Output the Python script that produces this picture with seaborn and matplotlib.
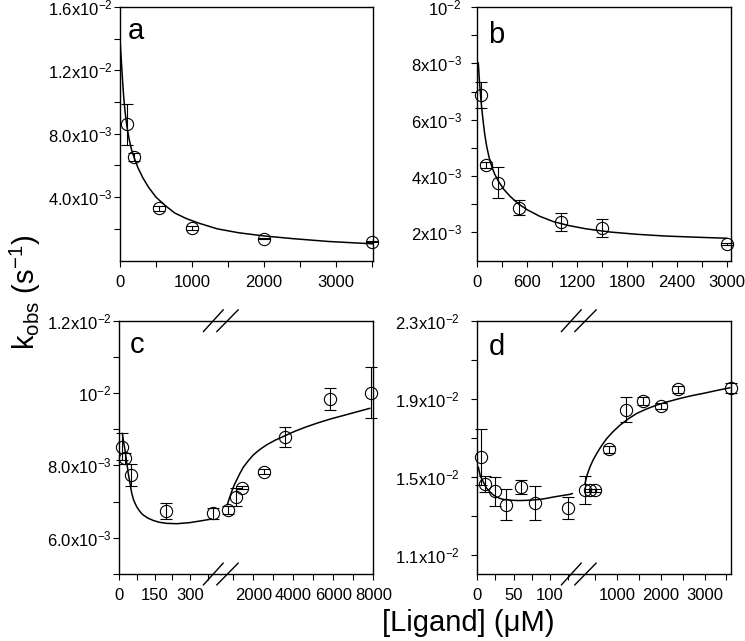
import matplotlib
matplotlib.use("Agg")
import matplotlib.pyplot as plt
import seaborn as sns
import numpy as np
import pandas as pd
from matplotlib.lines import Line2D

sns.set_theme(style="ticks")
plt.rcParams["font.family"] = ["Liberation Sans", "DejaVu Sans"]
plt.rcParams["mathtext.fontset"] = "custom"
plt.rcParams["mathtext.rm"] = "Liberation Sans"
plt.rcParams["mathtext.it"] = "Liberation Sans:italic"
plt.rcParams["mathtext.bf"] = "Liberation Sans:bold"
plt.rcParams["mathtext.sf"] = "Liberation Sans"

S = 1e-3  # values below are in units of 1e-3 s^-1

# ---------------- panel a ----------------
a_x = [100, 200, 540, 1000, 2000, 3500]
a_y = [8.6, 6.52, 3.3, 2.05, 1.37, 1.18]
a_err = [1.3, 0.25, 0.15, 0.1, 0.04, 0.04]
a_fit_x = [0, 10, 20, 35, 50, 70, 95, 125, 160, 200, 250, 320, 400, 500, 620, 760, 920,
           1100, 1350, 1650, 2000, 2400, 2900, 3519]
a_fit_y = [14.0, 13.2, 12.5, 11.4, 10.4, 9.4, 8.5, 7.7, 7.0, 6.45, 5.85, 5.2, 4.6, 4.0, 3.5,
           3.0, 2.65, 2.35, 2.0, 1.75, 1.55, 1.38, 1.2, 1.05]

# ---------------- panel b ----------------
b_x = [40, 100, 250, 500, 1000, 1500, 3000]
b_y = [6.88, 4.39, 3.76, 2.87, 2.375, 2.16, 1.59]
b_err = [0.46, 0.1, 0.55, 0.27, 0.32, 0.32, 0.04]
b_fit_x = [12, 25, 41, 55, 72, 90, 113, 140, 173, 210, 253, 320, 394, 490, 594, 750, 915,
           1100, 1316, 1600, 1918, 2250, 2600, 3001]
b_fit_y = [8.02, 7.40, 6.80, 6.35, 5.90, 5.47, 5.05, 4.68, 4.34, 4.06, 3.82, 3.52, 3.28, 3.02,
           2.81, 2.57, 2.38, 2.24, 2.12, 2.01, 1.93, 1.87, 1.83, 1.79]

# ---------------- panel c ----------------
c_low_x = [12.5, 25, 50, 200, 400]
c_low_y = [8.52, 8.2, 7.74, 6.74, 6.68]
c_low_err = [0.38, 0.15, 0.3, 0.23, 0.15]
c_high_x = [750, 1120, 1450, 2550, 3600, 5850, 7880]
c_high_y = [6.77, 7.12, 7.39, 7.83, 8.78, 9.83, 10.01]
c_high_err = [0.1, 0.25, 0.03, 0.07, 0.27, 0.31, 0.71]
c_low_fit_x = [13, 18, 24, 29, 34, 38, 43, 48, 53, 60, 67, 74, 85, 95, 102, 120, 144, 170,
               201, 244, 300, 357, 392]
c_low_fit_y = [8.89, 8.66, 8.43, 8.20, 7.97, 7.78, 7.60, 7.41, 7.23, 7.06, 6.95, 6.86, 6.75,
               6.67, 6.63, 6.55, 6.48, 6.43, 6.40, 6.39, 6.42, 6.48, 6.52]
c_high_fit_x = [700, 800, 920, 1040, 1170, 1330, 1500, 1750, 2000, 2300, 2670, 3100, 3585,
                4100, 4670, 5250, 5835, 6835, 7835]
c_high_fit_y = [6.91, 7.09, 7.28, 7.45, 7.60, 7.78, 7.95, 8.13, 8.29, 8.43, 8.57, 8.70, 8.82,
                8.95, 9.07, 9.18, 9.28, 9.43, 9.58]

# ---------------- panel d ----------------
d_low_x = [5, 10, 25, 40, 60, 80, 125]
d_low_y = [16.0, 14.62, 14.24, 13.56, 14.47, 13.66, 13.39]
d_low_err = [1.45, 0.4, 0.73, 0.8, 0.37, 0.88, 0.55]
d_high_x = [250, 375, 500, 800, 1200, 1600, 2000, 2400, 3600]
d_high_y = [14.3, 14.3, 14.3, 16.39, 18.44, 18.87, 18.63, 19.47, 19.56]
d_high_err = [0.71, 0.08, 0.08, 0.2, 0.65, 0.2, 0.15, 0.2, 0.25]
d_low_fit_x = [1.4, 4, 8.3, 12.5, 17.5, 22, 26.7, 31, 35.8, 42, 49.5, 58, 68, 77, 86.3, 95,
               104.6, 116, 127.6, 131]
d_low_fit_y = [15.49, 15.05, 14.72, 14.42, 14.21, 14.06, 13.95, 13.88, 13.83, 13.80, 13.78,
               13.77, 13.78, 13.80, 13.83, 13.88, 13.95, 14.02, 14.09, 14.13]
d_high_fit_x = [259, 310, 373, 445, 527, 635, 757, 900, 1062, 1250, 1445, 1670, 1904, 2170,
                2438, 2700, 2972, 3280, 3585]
d_high_fit_y = [14.64, 15.10, 15.49, 15.85, 16.18, 16.57, 16.95, 17.30, 17.64, 17.96, 18.24,
                18.47, 18.67, 18.85, 19.01, 19.15, 19.27, 19.42, 19.56]

# tick labels
a_yticks = [4, 8, 12, 16]
a_ylabels = ["4.0x$\\mathregular{10^{-3}}$", "8.0x$\\mathregular{10^{-3}}$",
             "1.2x$\\mathregular{10^{-2}}$", "1.6x$\\mathregular{10^{-2}}$"]
b_yticks = [2, 4, 6, 8, 10]
b_ylabels = ["2x$\\mathregular{10^{-3}}$", "4x$\\mathregular{10^{-3}}$", "6x$\\mathregular{10^{-3}}$",
             "8x$\\mathregular{10^{-3}}$", "$\\mathregular{10^{-2}}$"]
c_yticks = [6, 8, 10, 12]
c_ylabels = ["6.0x$\\mathregular{10^{-3}}$", "8.0x$\\mathregular{10^{-3}}$",
             "$\\mathregular{10^{-2}}$", "1.2x$\\mathregular{10^{-2}}$"]
d_yticks = [11, 15, 19, 23]
d_ylabels = ["1.1x$\\mathregular{10^{-2}}$", "1.5x$\\mathregular{10^{-2}}$",
             "1.9x$\\mathregular{10^{-2}}$", "2.3x$\\mathregular{10^{-2}}$"]

W, H = 745, 641
fig = plt.figure(figsize=(W / 100, H / 100), dpi=100)
fig.patch.set_facecolor("white")


def add_ax(l, r, t, b):
    return fig.add_axes([l / W, 1 - b / H, (r - l) / W, (b - t) / H])


TL = 4.4
FS = 12


def style(ax, ypad):
    ax.set_facecolor("white")
    ax.tick_params(axis="both", which="both", direction="out", length=TL, width=0.8,
                   colors="black", labelsize=FS, top=False, right=False)
    ax.tick_params(axis="x", which="both", pad=6)
    ax.tick_params(axis="y", which="both", pad=ypad)
    for s in ax.spines.values():
        s.set_linewidth(1.0)
        s.set_color("black")
    ax.grid(False)


def draw(ax, x, y, err, fx, fy):
    sns.lineplot(x=np.array(fx), y=np.array(fy) * S, ax=ax, color="black", linewidth=1.1,
                 estimator=None, sort=False, legend=False)
    ax.errorbar(np.array(x), np.array(y) * S, yerr=np.array(err) * S, fmt="o", ms=8.8,
                mfc="none", mec="black", mew=0.8, ecolor="black", elinewidth=0.8,
                capsize=4.5, capthick=0.8, clip_on=False, zorder=3)


# ---- a ----
ax_a = add_ax(120, 373.3, 7, 260.5)
style(ax_a, 1.0)
draw(ax_a, a_x, a_y, a_err, a_fit_x, a_fit_y)
ax_a.set_xlim(0, 3520)
ax_a.set_ylim(0, 16 * S)
ax_a.set_xticks([0, 1000, 2000, 3000])
ax_a.set_xticks([500, 1500, 2500, 3500], minor=True)
ax_a.set_yticks(np.array(a_yticks) * S, labels=a_ylabels)
ax_a.set_yticks(np.array([2, 6, 10, 14]) * S, minor=True)

# ---- b ----
ax_b = add_ax(477.3, 730.7, 7, 260.5)
style(ax_b, 7.0)
draw(ax_b, b_x, b_y, b_err, b_fit_x, b_fit_y)
ax_b.set_xlim(0, 3045)
ax_b.set_ylim(1 * S, 10 * S)
ax_b.set_xticks([0, 600, 1200, 1800, 2400, 3000])
ax_b.set_xticks([300, 900, 1500, 2100, 2700], minor=True)
ax_b.set_yticks(np.array(b_yticks) * S, labels=b_ylabels)
ax_b.set_yticks(np.array([3, 5, 7, 9]) * S, minor=True)


def broken(l, j, r, ypad, lowlim, highlim, ylim, yt, yl, ym,
           lx, ly, le, lfx, lfy, hx, hy, he, hfx, hfy,
           lmaj, lmin, hmaj, hmin):
    t, b = 320.7, 574
    ax1 = add_ax(l, j, t, b)
    ax2 = add_ax(j, r, t, b)
    style(ax1, ypad)
    style(ax2, ypad)
    draw(ax1, lx, ly, le, lfx, lfy)
    draw(ax2, hx, hy, he, hfx, hfy)
    ax1.set_xlim(*lowlim)
    ax2.set_xlim(*highlim)
    for ax in (ax1, ax2):
        ax.set_ylim(ylim[0] * S, ylim[1] * S)
    ax1.set_yticks(np.array(yt) * S, labels=yl)
    ax1.set_yticks(np.array(ym) * S, minor=True)
    ax1.spines["right"].set_visible(False)
    ax2.spines["left"].set_visible(False)
    ax2.tick_params(axis="y", which="both", left=False, labelleft=False)
    ax1.set_xticks(lmaj)
    ax1.set_xticks(lmin, minor=True)
    ax2.set_xticks(hmaj)
    ax2.set_xticks(hmin, minor=True)
    # break marks
    for sy in (t, b):
        for x0, x1 in ((j - 17.7, j + 2.3), (j - 4.3, j + 17.3)):
            fig.add_artist(Line2D([x0 / W, x1 / W], [1 - (sy + 11) / H, 1 - (sy - 11) / H],
                                  transform=fig.transFigure, color="black", lw=1.0))
    return ax1, ax2


ax_c1, ax_c2 = broken(119.3, 221, 373.3, 1.0, (0, 432), (385, 8000), (5, 12),
                      c_yticks, c_ylabels, [5, 7, 9, 11],
                      c_low_x, c_low_y, c_low_err, c_low_fit_x, c_low_fit_y,
                      c_high_x, c_high_y, c_high_err, c_high_fit_x, c_high_fit_y,
                      [0, 150, 300], [75, 225, 375], [2000, 4000, 6000, 8000], [1000, 3000, 5000, 7000])

ax_d1, ax_d2 = broken(477.3, 579, 730.7, 8.0, (0, 140), (122, 3600), (10, 23),
                      d_yticks, d_ylabels, [13, 17, 21],
                      d_low_x, d_low_y, d_low_err, d_low_fit_x, d_low_fit_y,
                      d_high_x, d_high_y, d_high_err, d_high_fit_x, d_high_fit_y,
                      [0, 50, 100], [25, 75, 125], [1000, 2000, 3000], [500, 1500, 2500, 3500])

# panel letters
for txt, x, y in (("a", 127.7, 39.3), ("b", 488.3, 43.3), ("c", 130, 353.3), ("d", 488.3, 355)):
    fig.text(x / W, 1 - y / H, txt, fontsize=21, va="baseline", ha="left", color="black")

# axis labels
fig.text(468 / W, 1 - 623 / H, "[Ligand] (\u03bcM)", fontsize=21, ha="center", va="center", color="black")
fig.text(25 / W, 1 - 292 / H, "k$_{\\mathregular{obs}}$ (s$^{\\mathregular{-1}}$)", fontsize=21,
         rotation=90, ha="center", va="center", color="black")

fig.savefig("out.png", dpi=100, facecolor="white")
